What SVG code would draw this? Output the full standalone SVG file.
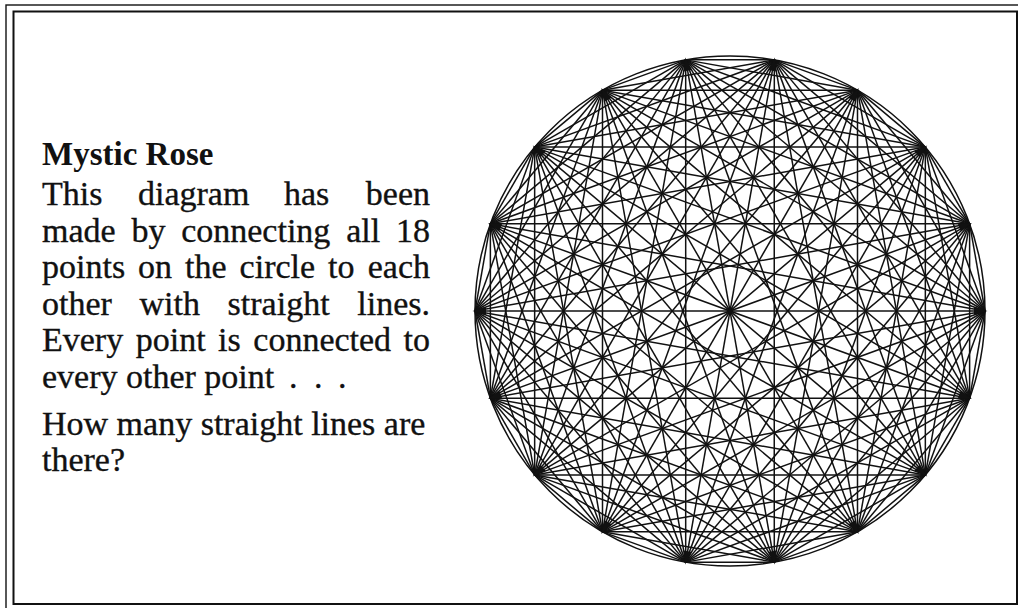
<svg xmlns="http://www.w3.org/2000/svg" width="1018" height="608" viewBox="0 0 1018 608">
<style>
.t{font-family:"Liberation Serif","Times New Roman",serif;font-size:34px;fill:#111;stroke:#111;stroke-width:0.35}
.h{font-family:"Liberation Serif","Times New Roman",serif;font-size:33px;font-weight:bold;fill:#111}
.ch{stroke:#111;stroke-width:1.5;fill:none}
</style>
<defs>
<g id="fan" class="ch">
<line x1="985" y1="311" x2="969.62" y2="223.78"/>
<line x1="985" y1="311" x2="925.34" y2="147.09"/>
<line x1="985" y1="311" x2="857.5" y2="90.16"/>
<line x1="985" y1="311" x2="774.28" y2="59.87"/>
<line x1="985" y1="311" x2="685.72" y2="59.87"/>
<line x1="985" y1="311" x2="602.5" y2="90.16"/>
<line x1="985" y1="311" x2="534.66" y2="147.09"/>
<line x1="985" y1="311" x2="490.38" y2="223.78"/>
</g>
<line id="dia" class="ch" x1="985" y1="311" x2="475" y2="311"/>
<path id="dot" d="M987.5 311 L974 307 L974 315 Z" fill="#111"/>
</defs>
<g id="frame" fill="none" stroke="#111">
<rect x="6" y="5" width="1030" height="620" stroke-width="1.4"/>
<rect x="13.5" y="11.5" width="1003.5" height="592.5" stroke-width="2"/>
</g>
<g id="text">
<text class="h" x="42" y="165">Mystic Rose</text>
<text class="t" y="205"><tspan x="42">This</tspan><tspan x="138">diagram</tspan><tspan x="284">has</tspan></text>
<text class="t" x="430" y="205" text-anchor="end">been</text>
<text class="t" y="241.5"><tspan x="42">made</tspan><tspan x="131.4">by</tspan><tspan x="181.2">connecting</tspan><tspan x="346.2">all</tspan></text>
<text class="t" x="430" y="241.5" text-anchor="end">18</text>
<text class="t" y="278"><tspan x="42">points</tspan><tspan x="138.1">on</tspan><tspan x="185.1">the</tspan><tspan x="239.6">circle</tspan><tspan x="328.1">to</tspan></text>
<text class="t" x="430" y="278" text-anchor="end">each</text>
<text class="t" y="314.5"><tspan x="42">other</tspan><tspan x="139.5">with</tspan><tspan x="227.6">straight</tspan></text>
<text class="t" x="430" y="314.5" text-anchor="end">lines.</text>
<text class="t" y="351"><tspan x="42">Every</tspan><tspan x="135.7">point</tspan><tspan x="218.1">is</tspan><tspan x="253.3">connected</tspan></text>
<text class="t" x="430" y="351" text-anchor="end">to</text>
<text class="t" y="387.5"><tspan x="42">every other point</tspan><tspan x="289">.</tspan><tspan x="314">.</tspan><tspan x="338">.</tspan></text>
<text class="t" x="42" y="435">How many straight lines are</text>
<text class="t" x="42" y="471">there?</text>
</g>
<g id="rose">
<circle cx="730" cy="311" r="255" class="ch"/>
<g id="chords">
<use href="#fan"/>
<use href="#fan" transform="rotate(20 730 311)"/>
<use href="#fan" transform="rotate(40 730 311)"/>
<use href="#fan" transform="rotate(60 730 311)"/>
<use href="#fan" transform="rotate(80 730 311)"/>
<use href="#fan" transform="rotate(100 730 311)"/>
<use href="#fan" transform="rotate(120 730 311)"/>
<use href="#fan" transform="rotate(140 730 311)"/>
<use href="#fan" transform="rotate(160 730 311)"/>
<use href="#fan" transform="rotate(180 730 311)"/>
<use href="#fan" transform="rotate(200 730 311)"/>
<use href="#fan" transform="rotate(220 730 311)"/>
<use href="#fan" transform="rotate(240 730 311)"/>
<use href="#fan" transform="rotate(260 730 311)"/>
<use href="#fan" transform="rotate(280 730 311)"/>
<use href="#fan" transform="rotate(300 730 311)"/>
<use href="#fan" transform="rotate(320 730 311)"/>
<use href="#fan" transform="rotate(340 730 311)"/>
<use href="#dia"/>
<use href="#dia" transform="rotate(20 730 311)"/>
<use href="#dia" transform="rotate(40 730 311)"/>
<use href="#dia" transform="rotate(60 730 311)"/>
<use href="#dia" transform="rotate(80 730 311)"/>
<use href="#dia" transform="rotate(100 730 311)"/>
<use href="#dia" transform="rotate(120 730 311)"/>
<use href="#dia" transform="rotate(140 730 311)"/>
<use href="#dia" transform="rotate(160 730 311)"/>
</g>
<g id="points">
<use href="#dot"/>
<use href="#dot" transform="rotate(20 730 311)"/>
<use href="#dot" transform="rotate(40 730 311)"/>
<use href="#dot" transform="rotate(60 730 311)"/>
<use href="#dot" transform="rotate(80 730 311)"/>
<use href="#dot" transform="rotate(100 730 311)"/>
<use href="#dot" transform="rotate(120 730 311)"/>
<use href="#dot" transform="rotate(140 730 311)"/>
<use href="#dot" transform="rotate(160 730 311)"/>
<use href="#dot" transform="rotate(180 730 311)"/>
<use href="#dot" transform="rotate(200 730 311)"/>
<use href="#dot" transform="rotate(220 730 311)"/>
<use href="#dot" transform="rotate(240 730 311)"/>
<use href="#dot" transform="rotate(260 730 311)"/>
<use href="#dot" transform="rotate(280 730 311)"/>
<use href="#dot" transform="rotate(300 730 311)"/>
<use href="#dot" transform="rotate(320 730 311)"/>
<use href="#dot" transform="rotate(340 730 311)"/>
<circle cx="730" cy="311" r="2.5" fill="#111"/>
</g>
</g>
</svg>
